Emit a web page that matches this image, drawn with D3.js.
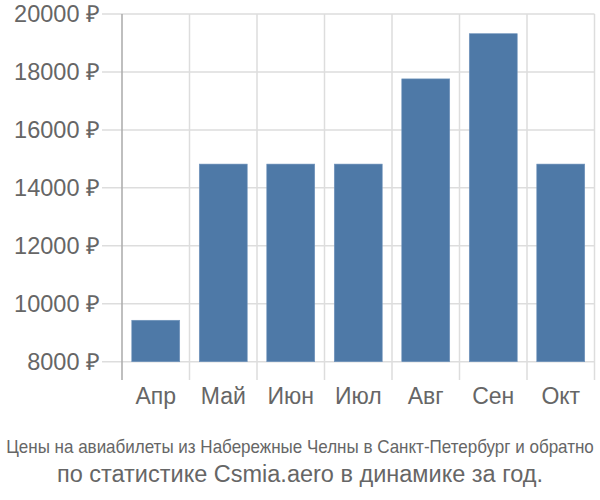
<!DOCTYPE html>
<html><head><meta charset="utf-8">
<script src="https://cdn.jsdelivr.net/npm/d3@7"></script>
<style>body{margin:0;background:#fff}svg{display:block}text{font-family:"Liberation Sans",Arial,sans-serif}</style>
</head><body><svg id="c" width="600" height="500"></svg>
<script>
const categories = ["Апр","Май","Июн","Июл","Авг","Сен","Окт"];
const values = [9430, 14820, 14820, 14820, 17760, 19320, 14820];
const yTicks = [8000,10000,12000,14000,16000,18000,20000];
const title1 = "Цены на авиабилеты из Набережные Челны в Санкт-Петербург и обратно";
const title2 = "по статистике Csmia.aero в динамике за год.";

(function(){
const svg = d3.select("#c");
const mLeft = 122, mRight = 594.5, mTop = 14, mBottom = 361.7;
const x = d3.scaleBand().domain(categories).range([mLeft, mRight]).paddingInner(0).paddingOuter(0);
const y = d3.scaleLinear().domain([8000, 20000]).range([mBottom, mTop]);
const grid = "#dddddd";

svg.append("g").selectAll("line").data(yTicks).join("line")
  .attr("x1", 102).attr("x2", mRight).attr("y1", d=>y(d)).attr("y2", d=>y(d))
  .attr("stroke", grid).attr("stroke-width", 1.5);
const bounds = categories.map(c=>x(c)).concat([mRight]);
svg.append("g").selectAll("line").data(bounds.slice(1)).join("line")
  .attr("x1", d=>d).attr("x2", d=>d).attr("y1", mTop).attr("y2", 380)
  .attr("stroke", grid).attr("stroke-width", 1.5);
svg.append("line").attr("x1", mLeft).attr("x2", mLeft).attr("y1", mTop).attr("y2", 380)
  .attr("stroke", "#aaaaaa").attr("stroke-width", 1.5);

const bw = x.bandwidth()*0.71;
svg.append("g").selectAll("rect").data(values).join("rect")
  .attr("x", (d,i)=>x(categories[i]) + (x.bandwidth()-bw)/2)
  .attr("width", bw)
  .attr("y", d=>y(d)).attr("height", d=>y(8000)-y(d))
  .attr("fill", "#4e79a7").attr("stroke", "#6f93bb").attr("stroke-width", 0.6);

svg.append("g").selectAll("text").data(yTicks).join("text")
  .attr("x", 100).attr("y", d=>y(d)).attr("dy", "0.35em")
  .attr("text-anchor", "end").attr("font-size", 23.5).attr("fill", "#666")
  .text(d=>d + " ₽");
svg.append("g").selectAll("text").data(categories).join("text")
  .attr("x", d=>x(d)+x.bandwidth()/2).attr("y", 404)
  .attr("text-anchor", "middle").attr("font-size", 23).attr("fill", "#666")
  .text(d=>d);

const g1 = svg.append("g");
const t1 = g1.append("text").attr("x", 0).attr("y", 0).attr("text-anchor", "middle")
  .attr("font-size", 18).attr("fill", "#666").text(title1);
const len = t1.node().getComputedTextLength();
g1.attr("transform", `translate(300,453) scale(${588/len},1)`);
svg.append("text").attr("x", 300).attr("y", 482).attr("text-anchor", "middle")
  .attr("font-size", 23.5).attr("fill", "#666")
  .text(title2);
})();
</script></body></html>
